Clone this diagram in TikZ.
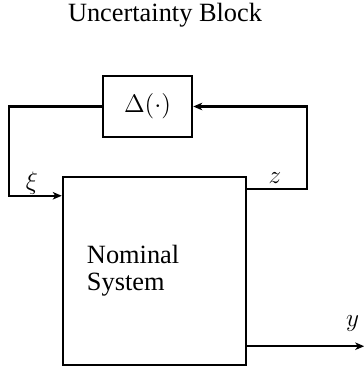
\documentclass[tikz,border=0pt]{standalone}
\usepackage{fontspec}
\setmainfont{Liberation Serif}
\usepackage{tikz}
\usetikzlibrary{
  arrows.meta,
  positioning
}

\begin{document}
\begin{tikzpicture}[
      >={Stealth[length=1.8mm, width=1.5mm, inset=0.5mm]},
      every node/.style={font=\fontsize{15}{15.4}\selectfont},
      bloco/.style={draw, line width=1.4pt, inner sep=0pt},
      sinal/.style={->, line width=1.4pt}
  ]
      \useasboundingbox (0,0) rectangle (7.26,7.38);

      % Blocos
      \node[bloco, minimum width=1.78cm, minimum height=1.22cm] (delta) at (2.95, 5.25) {$\Delta(\cdot)$};
      \node[bloco, minimum width=3.66cm, minimum height=3.76cm, text width=2.7cm, inner xsep=0.48cm, align=left] (nom) at (3.09, 1.96) {Nominal\\System};
      \node (titulo) at (3.30, 7.08) {Uncertainty Block};

      % Pontos de entrada e saida
      \coordinate (xiin) at ([yshift=-0.4cm]nom.north west);
      \coordinate (zout) at ([yshift=-0.26cm]nom.north east);
      \coordinate (yout) at ([yshift=0.4cm]nom.south east);

      % Setas de conexao
      \draw[sinal] (delta.west) -- ++(-1.86,0) |- (xiin);
      \draw[sinal] (zout) -- ++(1.2,0) |- (delta.east);
      \draw[sinal] (yout) -- ++(2.34,0) coordinate (yend);

      % Rotulos
      \node (xi) at (0.64, 3.72) {$\xi$};
      \node (z) at (5.50, 3.82) {$z$};
      \node (y) at (7.05, 0.90) {$y$};

  \end{tikzpicture}
\end{document}
